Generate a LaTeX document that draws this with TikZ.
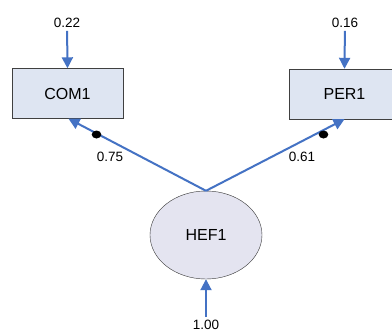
\documentclass[tikz,border=0pt]{standalone}
\usepackage{fontspec}
\setmainfont{Liberation Sans}
\usetikzlibrary{arrows.meta,shapes.geometric}
\definecolor{pathblue}{RGB}{68,114,196}
\definecolor{boxfill}{RGB}{222,229,242}
\definecolor{ellfill}{RGB}{228,228,240}
\tikzset{
  obsbox/.style={draw=black!75,fill=boxfill,minimum width=111pt,minimum height=50pt,inner sep=0pt,font=\fontsize{16}{16}\selectfont},
  latent/.style={ellipse,draw=black!80,fill=ellfill,minimum width=112pt,minimum height=88pt,inner sep=0pt,font=\fontsize{16}{16}\selectfont},
  coef/.style={inner sep=3pt,font=\fontsize{13.5}{13.5}\selectfont},
  patharrow/.style={pathblue,line width=2pt,-{Triangle[length=11pt,width=11pt]}},
}
\begin{document}
\begin{tikzpicture}[x=1pt,y=-1pt]
  \useasboundingbox (0,0) rectangle (392,335);
  \clip (0,0) rectangle (392,335);
  \fill[white] (0,0) rectangle (392,335);

  \node[obsbox] (com) at (67.5,93.5) {COM1}; %観測変数
  \node[obsbox] (per) at (344.5,94) {PER1};
  \node[latent] (hef) at (206,235) {HEF1}; %潜在変数

  \node[coef] (ecom) at (67,23) {0.22}; %誤差分散
  \node[coef] (eper) at (345,23) {0.16};
  \node[coef] (vhef) at (206,325) {1.00};

  \draw[patharrow] (ecom) -- (com.north);
  \draw[patharrow] (eper) -- (per.north);
  \draw[patharrow] (vhef) -- (hef.south);
  \draw[patharrow] (hef.north) -- ([xshift=1pt]com.south); %因子負荷
  \draw[patharrow] (hef.north) -- (per.south);

  \fill (96.5,134.5) ellipse (4.8pt and 4pt);
  \fill (323.5,134.5) ellipse (4.8pt and 4pt);
  \node[coef] (lcom) at (110,157) {0.75};
  \node[coef] (lper) at (302,157) {0.61};
\end{tikzpicture}
\end{document}
